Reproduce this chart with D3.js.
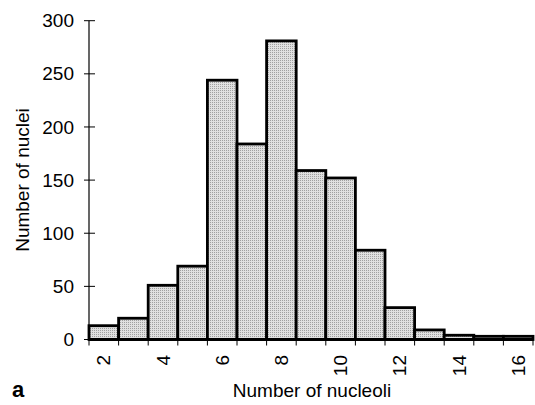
<!DOCTYPE html>
<html>
<head>
<meta charset="utf-8">
<script src="https://cdn.jsdelivr.net/npm/d3@7"></script>
<style>
  body { margin: 0; background: #fff; }
  text { font-family: "Liberation Sans", Arial, Helvetica, sans-serif; fill: #000; }
</style>
</head>
<body>
<svg width="535" height="405"></svg>
<script>
// number of nucleoli per nucleus (one bar each)
var nucleoli = [2, 3, 4, 5, 6, 7, 8, 9, 10, 11, 12, 13, 14, 15, 16];
var nuclei   = [13, 20, 51, 69, 244, 184, 281, 159, 152, 84, 30, 9, 4, 3, 3];
var xTickLabels = [2, 4, 6, 8, 10, 12, 14, 16];
var yTickValues = [0, 50, 100, 150, 200, 250, 300];

var svg = d3.select("svg");

var x = d3.scaleBand()
    .domain(nucleoli)
    .range([89, 533])
    .padding(0);

var y = d3.scaleLinear()
    .domain([0, 300])
    .range([339.5, 20.7]);

// dotted grey fill like the printed screen
var defs = svg.append("defs");
var pat = defs.append("pattern")
    .attr("id", "dots")
    .attr("width", 2)
    .attr("height", 2)
    .attr("patternUnits", "userSpaceOnUse");
pat.append("rect").attr("width", 2).attr("height", 2).attr("fill", "#e0e0e0");
pat.append("rect").attr("width", 1).attr("height", 1).attr("fill", "#a0a0a0");

// y axis
var yAxis = svg.append("g");
yAxis.append("line")
    .attr("x1", 89).attr("x2", 89)
    .attr("y1", y(300)).attr("y2", y(0))
    .attr("stroke", "#000").attr("stroke-width", 1.2);
yAxis.selectAll(".ytick")
  .data(yTickValues)
  .enter().append("line")
    .attr("class", "ytick")
    .attr("x1", 84).attr("x2", 95)
    .attr("y1", function(d) { return y(d); })
    .attr("y2", function(d) { return y(d); })
    .attr("stroke", "#000").attr("stroke-width", 1);
yAxis.selectAll(".ylab")
  .data(yTickValues)
  .enter().append("text")
    .attr("class", "ylab")
    .attr("x", 74)
    .attr("y", function(d) { return y(d); })
    .attr("dy", "0.35em")
    .attr("text-anchor", "end")
    .style("font-size", "19px")
    .text(function(d) { return d; });

// x ticks at bar edges
var edges = nucleoli.map(function(d) { return x(d); }).concat([x.range()[1]]);
svg.append("g").selectAll("line")
  .data(edges)
  .enter().append("line")
    .attr("x1", function(d) { return d; })
    .attr("x2", function(d) { return d; })
    .attr("y1", y(0))
    .attr("y2", y(0) + 6)
    .attr("stroke", "#000").attr("stroke-width", 1);

// bars
svg.append("g").selectAll("rect")
  .data(nucleoli)
  .enter().append("rect")
    .attr("x", function(d) { return x(d); })
    .attr("y", function(d, i) { return y(nuclei[i]); })
    .attr("width", x.bandwidth())
    .attr("height", function(d, i) { return y(0) - y(nuclei[i]); })
    .attr("fill", "url(#dots)")
    .attr("stroke", "#000")
    .attr("stroke-width", 2.8);

// baseline
svg.append("line")
    .attr("x1", 89).attr("x2", 533)
    .attr("y1", y(0)).attr("y2", y(0))
    .attr("stroke", "#000").attr("stroke-width", 2.8);

// x tick labels, rotated
svg.append("g").selectAll("text")
  .data(xTickLabels)
  .enter().append("text")
    .attr("transform", function(d) {
      return "translate(" + (x(d) + x.bandwidth() / 2) + ",355) rotate(-90)";
    })
    .attr("dy", "0.35em")
    .attr("text-anchor", "end")
    .style("font-size", "19px")
    .text(function(d) { return d; });

// axis titles
svg.append("text")
    .attr("transform", "translate(29,180) rotate(-90)")
    .attr("text-anchor", "middle")
    .style("font-size", "19px")
    .text("Number of nuclei");

svg.append("text")
    .attr("x", 312)
    .attr("y", 397)
    .attr("text-anchor", "middle")
    .style("font-size", "19px")
    .text("Number of nucleoli");

svg.append("text")
    .attr("x", 12)
    .attr("y", 397)
    .style("font-size", "22px")
    .style("font-weight", "bold")
    .text("a");
</script>
</body>
</html>
